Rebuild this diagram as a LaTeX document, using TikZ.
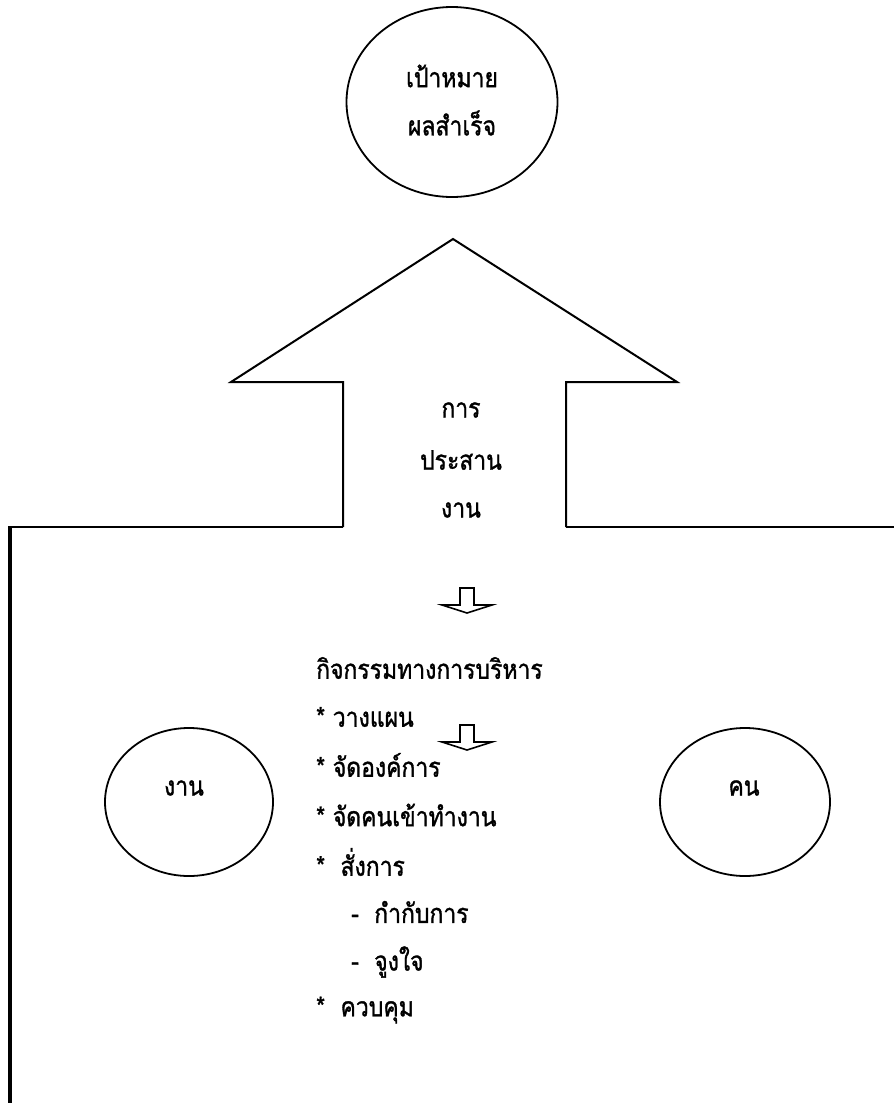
\documentclass[tikz,border=0pt]{standalone}
\usepackage{fontspec}
\newfontfamily\thaifont[Script=Thai,FakeStretch=0.85,FakeBold=1.2]{Loma}
\usetikzlibrary{shapes.geometric}
\tikzset{
  line/.style={draw=black,line width=2pt},
  oval/.style={ellipse,draw=black,line width=1.8pt,inner sep=0pt},
  txt/.style={font=\thaifont\fontsize{27}{29}\selectfont,inner sep=0pt},
  item/.style={txt,anchor=west},
  downblock/.pic={\draw[line width=1.6pt,line join=miter]
     (-7,0) -- (-7,17) -- (-25,17) -- (0,25) -- (25,17) -- (7,17) -- (7,0) -- cycle;}
}
\begin{document}
\begin{tikzpicture}[x=1pt,y=-1pt]
\useasboundingbox (0,0) rectangle (894,1103);
% top goal ellipse
\node[oval,minimum width=211pt,minimum height=190pt] (goal) at (452,102) {};
\node[txt] (goal1) at (452,76) {เป้าหมาย};
\node[txt] (goal2) at (452,123) {ผลสำเร็จ};
% big up arrow + base
\coordinate (apex) at (453,239);
\draw[line,line join=miter]
  (343,527) -- (343,382) -- (231,382) -- (apex) -- (677,382) -- (566,382) -- (566,527);
\draw[line] (343,527) -- (10,527);
\draw[line] (566,527) -- (894,527);
\draw[line width=3.5pt] (10,526) -- (10,1103);
\node[txt] (co1) at (461,410) {การ};
\node[txt] (co2) at (461,460) {ประสาน};
\node[txt] (co3) at (461,510) {งาน};
% small block arrows
\pic at (467,588) {downblock};
\pic at (467,725) {downblock};
% circles
\node[oval,minimum width=168pt,minimum height=148pt] (work) at (189,802) {};
\node[txt] (worklbl) at (184,788) {งาน};
\node[oval,minimum width=170pt,minimum height=148pt] (people) at (745,802) {};
\node[txt] (peoplelbl) at (744,788) {คน};
% list
\node[item] (t0) at (316,668) {กิจกรรมทางการบริหาร};
\node[item] (t1) at (316,717) {* วางแผน};
\node[item] (t2) at (316,765) {* จัดองค์การ};
\node[item] (t3) at (316,815) {* จัดคนเข้าทำงาน};
\node[item] (t4) at (316,862) {*\ \ สั่งการ};
\node[item] (t5) at (351,912) {-\ \ กำกับการ};
\node[item] (t6) at (351,962) {-\ \ จูงใจ};
\node[item] (t7) at (316,1010) {*\ \ ควบคุม};
\end{tikzpicture}
\end{document}
